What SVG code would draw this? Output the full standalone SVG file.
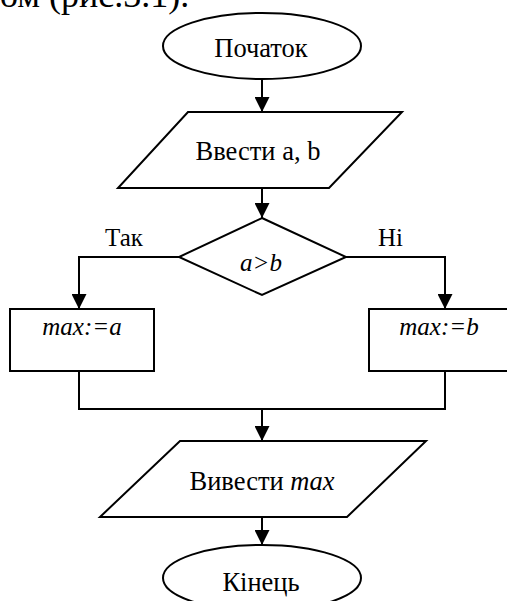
<svg xmlns="http://www.w3.org/2000/svg" width="507" height="601" viewBox="0 0 507 601">
<style>
.shape{fill:#fff;stroke:#000;stroke-width:2}
.line{fill:none;stroke:#000;stroke-width:2}
text{font-family:"Liberation Serif","Times New Roman",serif;font-size:25px;fill:#000}
.big{font-size:26.5px}
.c{text-anchor:middle}
.i{font-style:italic}
</style>
<defs>
<marker id="arr" markerUnits="userSpaceOnUse" markerWidth="15" markerHeight="15" refX="15" refY="7.5" orient="auto">
<path d="M0,0 L15,7.5 L0,15 Z" fill="#000"/>
</marker>
</defs>
<rect width="507" height="601" fill="#fff"/>
<text x="0" y="7" style="font-size:36px">ом (рис.3.1).</text>
<g id="connectors">
<line class="line" x1="262" y1="79" x2="262" y2="112" marker-end="url(#arr)"/>
<line class="line" x1="262" y1="188" x2="262" y2="218" marker-end="url(#arr)"/>
<polyline class="line" points="179,257 79,257 79,309" marker-end="url(#arr)"/>
<polyline class="line" points="346,257 445,257 445,309" marker-end="url(#arr)"/>
<polyline class="line" points="79,371 79,409 445,409 445,371"/>
<line class="line" x1="262" y1="409" x2="262" y2="441" marker-end="url(#arr)"/>
<line class="line" x1="262" y1="517" x2="262" y2="545" marker-end="url(#arr)"/>
</g>
<g id="start">
<ellipse class="shape" cx="262" cy="46" rx="99" ry="33"/>
<text class="c big" x="261" y="57">Початок</text>
</g>
<g id="input">
<polygon class="shape" points="188,112 402,112 329,188 118,188"/>
<text class="c big" x="258" y="160">Ввести a, b</text>
</g>
<g id="decision">
<polygon class="shape" points="262,218 346,257 262,295 179,257"/>
<text class="c i" x="261" y="271">a&gt;b</text>
</g>
<g id="label-yes"><text x="105" y="246">Так</text></g>
<g id="label-no"><text x="378" y="246">Ні</text></g>
<g id="assign-a">
<rect class="shape" x="10" y="309" width="144" height="62"/>
<text class="c i" x="82" y="335">max:=a</text>
</g>
<g id="assign-b">
<rect class="shape" x="369" y="309" width="144" height="62"/>
<text class="c i" x="439" y="335">max:=b</text>
</g>
<g id="output">
<polygon class="shape" points="180,441 426,441 347,517 100,517"/>
<text class="c big" x="262" y="490">Вивести <tspan class="i">max</tspan></text>
</g>
<g id="end">
<ellipse class="shape" cx="262" cy="578" rx="99" ry="33"/>
<text class="c big" x="261" y="591">Кінець</text>
</g>
</svg>
